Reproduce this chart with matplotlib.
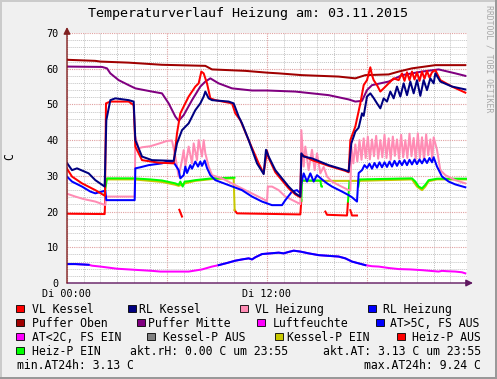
import numpy as np
import matplotlib
matplotlib.use("Agg")
import matplotlib.pyplot as plt
from matplotlib.patches import Rectangle

nan = np.nan

# ---- data (hours since 00:00, degrees C) ----
vl_kessel_t = [0.0, 0.3, 0.9, 1.7, 2.28, 2.34, 2.6, 3.7, 4.0, 4.1, 4.5, 5.5, 6.4, 6.6, 6.8, 7.0, 7.3, 7.7,
               7.9, 8.06, 8.2, 8.4, 8.6, 8.9, 9.9, 10.1, 10.4, 10.9, 11.5, 11.8, 12.0, 12.1, 12.5, 13.3, 13.7,
               14.0, 14.06, 14.7, 15.7, 16.7, 16.9, 17.0, 17.3, 17.6, 17.8, 18.0, 18.2, 18.3, 18.4, 18.6, 18.8,
               19.0, 19.3, 19.6, 19.9, 20.1, 20.25, 20.4, 20.55, 20.7, 20.85, 21.0, 21.15, 21.3, 21.45, 21.6,
               21.75, 21.9, 22.1, 22.4, 23.1, 23.9]
vl_kessel_v = [32.0, 29.8, 27.9, 26.0, 24.4, 50.3, 50.8, 50.8, 49.8, 38.2, 34.4, 33.7, 33.5, 41.9, 47.5, 49.4,
               52.2, 55.0, 55.9, 59.2, 58.7, 55.9, 51.7, 51.2, 50.3, 47.5, 45.6, 40.0, 33.5, 30.7, 37.0, 35.0,
               31.0, 26.5, 24.8, 24.0, 36.0, 34.4, 32.8, 31.4, 31.0, 40.0, 43.8, 50.3, 55.4, 56.8, 60.4, 58.2,
               56.8, 55.4, 53.6, 54.5, 55.9, 57.3, 56.8, 58.7, 56.6, 59.0, 56.8, 59.2, 57.0, 59.0, 56.6, 59.2,
               57.2, 59.4, 57.5, 59.0, 59.6, 56.8, 55.0, 53.3]

rl_kessel_t = [0.0, 0.3, 0.6, 1.3, 1.7, 2.26, 2.36, 2.6, 2.9, 3.7, 4.0, 4.1, 4.5, 5.1, 6.4, 6.6, 6.9, 7.3, 7.7,
               8.0, 8.2, 8.3, 8.5, 8.7, 9.7, 10.0, 10.3, 10.5, 10.9, 11.4, 11.8, 11.94, 12.1, 12.5, 13.3, 13.7,
               14.0, 14.06, 14.2, 14.7, 15.7, 16.7, 16.9, 17.06, 17.2, 17.3, 17.5, 17.7, 17.8, 18.0, 18.2, 18.4,
               18.6, 18.8, 19.0, 19.2, 19.4, 19.6, 19.8, 20.0, 20.2, 20.4, 20.6, 20.8, 21.0, 21.2, 21.4, 21.6,
               21.8, 22.0, 22.1, 22.4, 23.1, 23.9]
rl_kessel_v = [33.6, 31.6, 32.1, 30.7, 28.8, 27.0, 45.6, 51.2, 51.7, 51.2, 50.8, 40.0, 35.4, 34.4, 34.2, 39.1,
               42.8, 44.7, 48.4, 50.3, 52.2, 53.6, 51.7, 51.2, 50.8, 50.3, 46.6, 44.7, 40.0, 33.5, 30.5, 37.3,
               35.4, 31.6, 27.0, 25.1, 24.2, 36.3, 35.4, 34.9, 33.0, 31.6, 31.2, 39.1, 41.0, 42.4, 43.5, 47.5,
               46.8, 52.2, 53.1, 51.8, 50.3, 48.9, 51.7, 50.8, 53.6, 51.7, 55.0, 52.2, 55.9, 52.6, 56.4, 53.1,
               56.8, 52.4, 56.8, 54.0, 57.3, 55.9, 58.7, 56.4, 55.0, 54.2]

vl_heizung_t = [0.0, 0.5, 1.0, 1.7, 2.3, 2.34, 4.06, 4.1, 4.3, 4.5, 5.0, 5.7, 6.0, 6.3, 6.5, 6.7, 6.9, 7.0, 7.1,
                7.3, 7.5, 7.6, 7.8, 7.9, 8.1, 8.2, 8.3, 8.5, 8.7, 9.3, 10.1, 10.7, 11.3, 11.9, 12.0, 12.05,
                12.3, 12.7, 13.1, 13.7, 14.0, 14.06, 14.2, 14.3, 14.5, 14.7, 14.86, 15.0, 15.2, 15.4, 15.6,
                15.9, 16.3, 16.9, 17.0, 17.06, 17.18, 17.3, 17.42, 17.55, 17.67, 17.8, 17.92, 18.05, 18.17,
                18.3, 18.42, 18.55, 18.67, 18.8, 18.92, 19.05, 19.17, 19.3, 19.42, 19.55, 19.67, 19.8, 19.92,
                20.05, 20.17, 20.3, 20.42, 20.55, 20.67, 20.8, 20.92, 21.05, 21.17, 21.3, 21.42, 21.55, 21.67,
                21.8, 21.92, 22.0, 22.2, 22.4, 22.7, 23.3, 23.9]
vl_heizung_v = [25.0, 24.2, 23.5, 22.8, 21.8, 24.2, 24.2, 41.0, 37.7, 38.0, 38.3, 39.3, 39.8, 39.9, 35.4, 29.8,
                34.4, 37.2, 32.6, 38.2, 33.5, 39.1, 34.4, 40.0, 35.4, 40.0, 36.3, 32.6, 30.2, 29.3, 27.4, 26.0,
                24.6, 23.2, 22.8, 27.0, 27.0, 26.0, 24.2, 22.8, 22.1, 42.8, 32.6, 38.2, 31.6, 37.3, 31.6, 36.3,
                30.7, 32.5, 29.8, 28.4, 27.4, 26.0, 26.0, 38.2, 33.5, 38.8, 34.0, 40.0, 34.5, 40.5, 35.0, 41.0,
                34.6, 40.2, 35.5, 41.2, 34.8, 40.0, 35.2, 41.5, 35.0, 40.5, 34.5, 41.0, 35.6, 40.2, 34.8, 41.5,
                35.2, 40.0, 35.0, 41.8, 35.5, 40.6, 34.6, 41.9, 35.0, 40.8, 34.4, 41.6, 35.8, 40.2, 34.5, 40.8,
                37.3, 31.6, 30.2, 28.8, 27.9]

rl_heizung_t = [0.0, 0.3, 0.9, 1.4, 1.7, 2.1, 2.3, 2.36, 4.06, 4.1, 4.4, 4.9, 5.7, 6.0, 6.4, 6.7, 6.8, 7.0, 7.1,
                7.2, 7.4, 7.5, 7.7, 7.86, 8.0, 8.1, 8.26, 8.4, 8.6, 8.9, 9.7, 10.5, 11.1, 11.7, 12.3, 12.9, 13.1,
                13.5, 13.8, 14.0, 14.06, 14.2, 14.4, 14.6, 14.8, 15.0, 15.3, 15.6, 15.9, 16.5, 16.9, 17.1, 17.4,
                17.5, 17.7, 17.85, 18.0, 18.15, 18.3, 18.45, 18.6, 18.75, 18.9, 19.05, 19.2, 19.35, 19.5, 19.65,
                19.8, 19.95, 20.1, 20.25, 20.4, 20.55, 20.7, 20.85, 21.0, 21.15, 21.3, 21.45, 21.6, 21.75, 21.9,
                22.0, 22.2, 22.5, 22.9, 23.3, 23.9]
rl_heizung_v = [29.8, 28.4, 27.0, 25.6, 25.1, 25.6, 25.9, 23.2, 23.2, 32.1, 32.4, 33.0, 33.5, 34.0, 33.8, 31.6,
                29.3, 30.2, 32.6, 30.8, 33.0, 32.0, 34.0, 32.6, 34.0, 32.8, 34.3, 32.2, 30.2, 28.8, 27.4, 26.0,
                24.2, 22.8, 21.8, 21.8, 23.2, 25.6, 26.0, 25.1, 27.9, 30.7, 28.4, 30.7, 28.4, 30.2, 29.0, 27.9,
                27.0, 25.6, 24.6, 24.0, 22.8, 30.8, 31.6, 33.0, 32.2, 33.4, 32.0, 33.6, 32.3, 33.8, 32.4, 33.8,
                32.5, 34.0, 32.6, 34.2, 32.8, 34.2, 33.0, 34.4, 33.0, 34.5, 33.2, 34.6, 33.3, 34.6, 33.5, 34.8,
                33.6, 35.0, 33.8, 35.2, 32.6, 29.8, 28.4, 27.6, 26.8]

puffer_oben_t = [0.0, 1.7, 2.0, 3.7, 5.7, 8.3, 8.7, 10.7, 12.0, 12.7, 14.1, 16.3, 17.3, 17.9, 19.3, 19.9, 20.7,
                 22.1, 23.9]
puffer_oben_v = [62.5, 62.2, 62.0, 61.7, 61.1, 60.8, 59.8, 59.4, 58.9, 58.7, 58.2, 57.8, 57.3, 58.2, 58.4, 59.2,
                 60.1, 61.0, 61.0]

puffer_mitte_t = [0.0, 2.1, 2.4, 2.6, 3.1, 3.7, 4.1, 5.1, 5.7, 6.1, 6.5, 6.7, 7.0, 7.5, 8.0, 8.3, 8.6, 9.1,
                  9.9, 11.1, 12.0, 13.7, 15.7, 16.9, 17.3, 17.7, 18.0, 18.3, 19.3, 20.1, 21.3, 22.3, 23.3, 23.9]
puffer_mitte_v = [60.6, 60.5, 60.1, 58.7, 56.8, 55.4, 54.5, 53.6, 53.1, 50.3, 46.6, 45.4, 47.0, 51.2, 55.0, 56.4,
                  57.3, 55.9, 54.5, 53.9, 53.9, 53.6, 52.6, 51.4, 50.8, 51.0, 54.0, 55.4, 56.4, 58.2, 59.2, 59.8,
                  58.7, 58.0]

# pump states (NaN = not drawn)
heizp_ein_t = [2.26, 2.4, 4.0, 5.0, 5.7, 6.0, 6.5, 6.7, 6.8, 6.94, 7.06, 7.3, 7.7, 8.7, 10.0, 10.05, 10.06,
               14.06, 14.1, 15.2, 15.26, 15.3, 15.31,
               16.86, 16.95, 16.96,
               17.48, 17.55, 20.7, 20.9, 21.1, 21.3, 21.5, 21.7, 22.2, 24.0]
heizp_ein_v = [25.1, 29.3, 29.3, 29.0, 28.7, 28.4, 27.9, 27.5, 28.4, 27.0, 28.4, 28.5, 28.8, 29.3, 29.5, 29.5, nan,
               23.0, 28.7, 28.7, 27.0, 27.0, nan,
               22.8, 28.4, nan,
               27.0, 29.0, 29.3, 28.4, 27.0, 26.5, 27.5, 28.8, 29.2, 29.2]

kesselp_ein_t = [2.4, 4.0, 5.7, 6.5, 6.7, 7.0, 7.7, 8.7, 10.0, 10.06, 10.07,
                 14.06, 17.5, 20.7, 21.0, 21.3, 21.5, 21.7, 22.2, 24.0]
kesselp_ein_v = [29.0, 29.0, 28.3, 27.5, 27.2, 27.8, 28.6, 29.1, 29.3, 20.4, nan,
                 28.6, 28.6, 29.0, 27.0, 26.0, 27.0, 28.5, 29.0, 29.0]

heizp_aus_t = [0.0, 2.26, 2.3, 2.31, 6.74, 6.9, 6.91, 10.06, 10.2, 14.0, 14.06, 14.07,
               15.5, 15.6, 16.8, 16.86, 16.87, 17.0, 17.1, 17.4]
heizp_aus_v = [19.4, 19.3, 24.4, nan, 20.5, 18.6, nan, 20.4, 19.5, 19.2, 23.2, nan,
               20.0, 19.1, 18.9, 22.8, nan, 20.4, 18.9, 18.9]

at_t = [0.0, 0.5, 1.3, 1.5, 2.0, 2.5, 3.0, 3.7, 4.4, 5.1, 5.6, 7.3, 7.7, 8.1, 8.7, 9.1, 9.6, 10.1, 10.5, 10.9,
        11.1, 11.3, 11.7, 12.2, 12.7, 13.0, 13.3, 13.6, 14.0, 14.5, 15.1, 15.7, 16.3, 16.7, 17.1, 17.5, 17.9,
        18.3, 18.7, 19.3, 19.9, 20.6, 21.3, 21.8, 22.3, 22.5, 22.8, 23.3, 23.7, 23.9]
at_v = [5.3, 5.3, 5.1, 4.85, 4.6, 4.3, 4.0, 3.8, 3.6, 3.4, 3.2, 3.2, 3.5, 3.8, 4.6, 5.0, 5.6, 6.25, 6.6, 6.9,
        6.6, 7.2, 8.1, 8.3, 8.5, 8.3, 8.7, 9.05, 8.8, 8.3, 7.8, 7.6, 7.4, 6.9, 6.0, 5.5, 5.0, 4.7, 4.6, 4.2,
        3.9, 3.8, 3.6, 3.4, 3.2, 3.4, 3.3, 3.2, 3.0, 2.7]
at_threshold = 5.0

# legend rows: (box x, text x, label, colour)
legend_rows = [
    [(16, 32, "VL Kessel", "#FF0000"), (128, 139, "RL Kessel", "#000080"),
     (240, 255, "VL Heizung", "#FF8CB4"), (368, 383, "RL Heizung", "#0000FF")],
    [(16, 32, "Puffer Oben", "#A00000"), (137, 148, "Puffer Mitte", "#800080"),
     (257, 273, "Luftfeuchte", "#FF00FF"), (376, 390, "AT>5C, FS AUS", "#0000FF")],
    [(16, 32, "AT<2C, FS EIN", "#FF00FF"), (147, 163, "Kessel-P AUS", "#808080"),
     (275, 287, "Kessel-P EIN", "#C8C800"), (397, 412, "Heiz-P AUS", "#FF0000")],
    [(16, 32, "Heiz-P EIN", "#00FF00")],
]
akt_rh = "akt.rH: 0.00 C um 23:55"
akt_at = "akt.AT: 3.13 C um 23:55"
min_at = "min.AT24h: 3.13 C"
max_at = "max.AT24h: 9.24 C"
title = "Temperaturverlauf Heizung am: 03.11.2015"

# ---- figure ----
W, H = 497, 379
plt.rcParams['font.family'] = ['DejaVu Sans Mono']
fig = plt.figure(figsize=(W / 100, H / 100), dpi=100, facecolor="#F0F0F0")


def fx(x):
    return x / W


def fy(y):
    return 1 - y / H


ax = fig.add_axes([fx(67), fy(283), 400 / W, 250 / H])
ax.set_facecolor("white")
ax.set_xlim(0, 24)
ax.set_ylim(0, 70)
for s in ax.spines.values():
    s.set_visible(False)

ax.set_xticks(np.arange(0, 25, 6))
ax.set_xticks(np.arange(0, 25, 1), minor=True)
ax.set_xticklabels(["Di 00:00", "", "Di 12:00", "", ""])
ax.set_yticks(np.arange(0, 71, 10))
ax.set_yticks(np.arange(0, 71, 2), minor=True)
ax.tick_params(which="both", length=0)
ax.tick_params(axis="x", labelsize=7.3, pad=4)
ax.tick_params(axis="y", labelsize=7.3, pad=6)
ax.grid(which="minor", color="#C4C4C4", linestyle=(0, (1, 1)), linewidth=0.7)
ax.grid(which="major", color="#E0A0A0", linestyle=(0, (1, 1)), linewidth=0.8)
ax.set_axisbelow(True)

lw = 1.45
at = np.array(at_v)
ax.plot(at_t, at, color="#FF00FF", lw=lw)
ax.plot(at_t, np.where(at >= at_threshold, at, np.nan), color="#0000FF", lw=lw)
ax.plot(heizp_aus_t, heizp_aus_v, color="#FF0000", lw=lw)
ax.plot(kesselp_ein_t, kesselp_ein_v, color="#C8C800", lw=lw)
ax.plot(heizp_ein_t, heizp_ein_v, color="#00FF00", lw=lw)
ax.plot(vl_heizung_t, vl_heizung_v, color="#FF8CB4", lw=lw)
ax.plot(rl_heizung_t, rl_heizung_v, color="#0000FF", lw=lw)
ax.plot(puffer_mitte_t, puffer_mitte_v, color="#800080", lw=lw)
ax.plot(puffer_oben_t, puffer_oben_v, color="#A00000", lw=lw)
ax.plot(vl_kessel_t, vl_kessel_v, color="#FF0000", lw=lw)
ax.plot(rl_kessel_t, rl_kessel_v, color="#000080", lw=lw)

# axes with arrows
ax.annotate("", xy=(1.0 + 6 / 400, 0), xytext=(0, 0), xycoords="axes fraction",
            arrowprops=dict(arrowstyle="-|>,head_length=0.4,head_width=0.2", color="#601860", lw=1.0,
                            shrinkA=0, shrinkB=0), annotation_clip=False)
ax.annotate("", xy=(0, 1.0 + 6 / 250), xytext=(0, 0), xycoords="axes fraction",
            arrowprops=dict(arrowstyle="-|>,head_length=0.4,head_width=0.2", color="#802020", lw=1.0,
                            shrinkA=0, shrinkB=0), annotation_clip=False)

# texts
fig.text(fx(248), fy(17), title, ha="center", va="baseline", fontsize=9.6)
fig.text(fx(10), fy(157), "C", rotation=90, ha="center", va="center", fontsize=8.3)
fig.text(fx(489), fy(5), "RRDTOOL / TOBI OETIKER", rotation=270, ha="center", va="top",
         fontsize=5.9, color="#A8A8A8")

base = [313, 327, 341, 355, 369]
for r, row in enumerate(legend_rows):
    for bx, tx, label, col in row:
        fig.add_artist(Rectangle((fx(bx), fy(base[r] - 1)), 7.5 / W, 7.5 / H, transform=fig.transFigure,
                                 facecolor=col, edgecolor="black", lw=0.6))
        fig.text(fx(tx), fy(base[r]), label, ha="left", va="baseline", fontsize=8.3)
fig.text(fx(130), fy(base[3]), akt_rh, ha="left", va="baseline", fontsize=8.3)
fig.text(fx(481), fy(base[3]), akt_at, ha="right", va="baseline", fontsize=8.3)
fig.text(fx(17), fy(base[4]), min_at, ha="left", va="baseline", fontsize=8.3)
fig.text(fx(481), fy(base[4]), max_at, ha="right", va="baseline", fontsize=8.3)

# 3d frame
fig.add_artist(Rectangle((0, 0), 2 / W, 1, transform=fig.transFigure, color="#CBCBCB", lw=0))
fig.add_artist(Rectangle((0, 1 - 2 / H), 1, 2 / H, transform=fig.transFigure, color="#CBCBCB", lw=0))
fig.add_artist(Rectangle((1 - 2 / W, 0), 2 / W, 1, transform=fig.transFigure, color="#999999", lw=0))
fig.add_artist(Rectangle((0, 0), 1, 2 / H, transform=fig.transFigure, color="#999999", lw=0))

fig.savefig("out.png", dpi=100, facecolor=fig.get_facecolor())
